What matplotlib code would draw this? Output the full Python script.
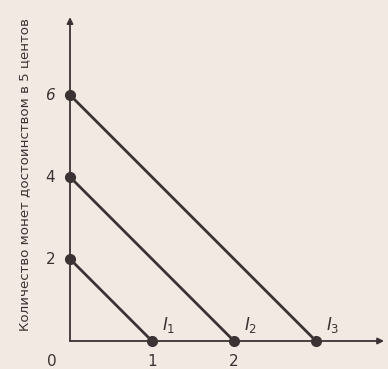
import matplotlib
matplotlib.use("Agg")
import matplotlib.pyplot as plt

# Data: budget lines (intercepts)
y_intercepts = [2, 4, 6]
x_intercepts = [1, 2, 3]
line_labels = [r"$I_1$", r"$I_2$", r"$I_3$"]
x_ticks = [1, 2]
y_ticks = [2, 4, 6]
ylabel = "Количество монет достоинством в 5 центов"

plt.rcParams['mathtext.fontset'] = 'dejavusans'
bg = "#f2e9e3"
ink = "#3b3333"

fig = plt.figure(figsize=(3.88, 3.69), dpi=100, facecolor=bg)
ax = fig.add_axes([0, 0, 1, 1])
ax.set_facecolor(bg)
ax.set_xlim(-70/82, (388-70)/82)
ax.set_ylim(-28/41, 341/41)
ax.axis('off')

# axes with arrows
ax.annotate("", xy=(0, 7.9), xytext=(0, 0),
            arrowprops=dict(arrowstyle="-|>", color=ink, lw=1.3, mutation_scale=9, shrinkA=0, shrinkB=0))
ax.annotate("", xy=(3.83, 0), xytext=(0, 0),
            arrowprops=dict(arrowstyle="-|>", color=ink, lw=1.3, mutation_scale=9, shrinkA=0, shrinkB=0))

for yi, xi, lab in zip(y_intercepts, x_intercepts, line_labels):
    ax.plot([0, xi], [yi, 0], color=ink, lw=2.0, solid_capstyle='round', zorder=3)
    ax.plot([0, xi], [yi, 0], 'o', color=ink, ms=7, zorder=4)
    ax.text(xi + 0.2, 0.38, lab, fontsize=12, color=ink, ha='center', va='center', style='italic')

for xt in x_ticks:
    ax.text(xt, -0.5, str(xt), fontsize=11, color=ink, ha='center', va='center')
ax.text(-0.22, -0.5, "0", fontsize=11, color=ink, ha='center', va='center')
for yt in y_ticks:
    ax.text(-0.24, yt, str(yt), fontsize=11, color=ink, ha='center', va='center', style='italic' if yt == 6 else 'normal')

ax.text(-0.55, 4.05, ylabel, fontsize=9.6, color=ink, rotation=90, ha='center', va='center')

fig.savefig("out.png", dpi=100, facecolor=bg)
